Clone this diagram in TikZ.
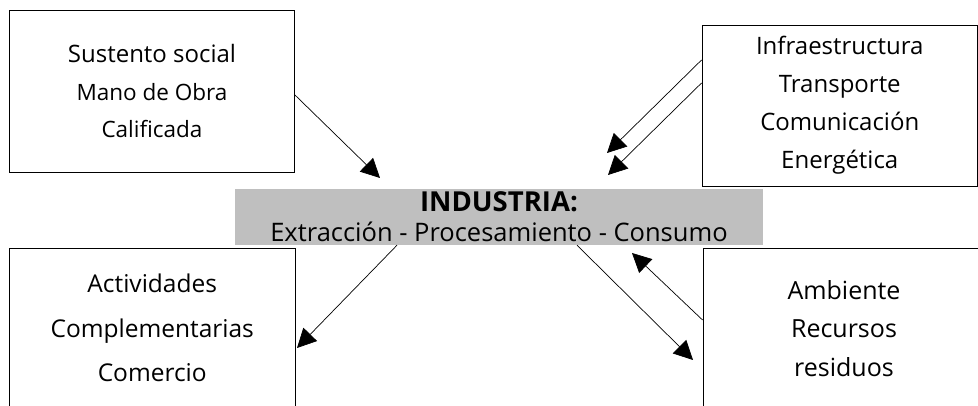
\documentclass[tikz,border=0pt]{standalone}
\usepackage{fontspec}
\setmainfont{Open Sans}
\usetikzlibrary{arrows.meta}
\begin{document}
\begin{tikzpicture}[x=1pt,y=1pt,
 box/.style={draw=black, line width=0.9pt, inner sep=0pt, align=center, font=\fontsize{24}{38}\selectfont},
 core/.style={fill=black!25, inner sep=0pt, align=center, font=\fontsize{25.5}{30}\selectfont},
 arr/.style={line width=0.7pt, -{Triangle[length=19pt,width=19pt]}}]
\useasboundingbox (0,0) rectangle (978,406);
\clip (0,0) rectangle (978,406);
\node[box, minimum width=285, minimum height=162, font=\fontsize{24}{37.5}\selectfont] (tl) at (152,315)
  {Sustento social\\{\fontsize{22.5}{37.5}\selectfont Mano de Obra}\\{\fontsize{22.5}{37.5}\selectfont Calificada}};
\node[box, minimum width=275.5, minimum height=161] (tr) at (839.75,300.5)
  {Infraestructura\\Transporte\\Comunicación\\Energética};
\node[core, minimum width=528, minimum height=56] (ind) at (499,189)
  {{\fontsize{27.5}{30}\selectfont\bfseries INDUSTRIA:}\\Extracción - Procesamiento - Consumo};
\node[box, minimum width=285.5, minimum height=160, font=\fontsize{24.5}{44.5}\selectfont] (bl) at (152.25,78)
  {Actividades\\Complementarias\\Comercio};
\node[box, minimum width=282, minimum height=161, font=\fontsize{25}{38.5}\selectfont] (br) at (844,77.5)
  {Ambiente\\Recursos\\residuos};
% arrow tips
\coordinate (t1) at (380,228);
\coordinate (t2) at (607,253);
\coordinate (t3) at (608,231);
\coordinate (t4) at (297,58);
\coordinate (t5) at (693,46);
\coordinate (t6) at (632,153);
\draw[arr] (tl.east |- 0,311) -- (t1);
\draw[arr] (tr.west |- 0,346) -- (t2);
\draw[arr] (tr.west |- 0,323) -- (t3);
\draw[arr] (ind.south -| 397,0) -- (t4);
\draw[arr] (ind.south -| 577,0) -- (t5);
\draw[arr] (br.west |- 0,86) -- (t6);
\end{tikzpicture}
\end{document}
